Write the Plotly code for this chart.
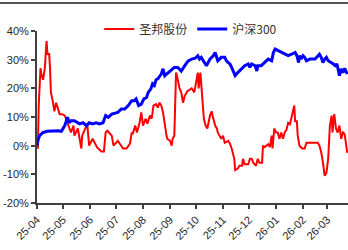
import plotly.graph_objects as go
import pandas as pd

START = "2025-04-01"

# 圣邦股份 (day offset from 2025-04-01, cumulative return %)
red_days = [0, 1, 2, 4, 5, 7, 9, 11, 12, 14, 15, 16, 18, 20, 22, 26, 29, 32, 35, 39, 42, 43, 47, 49,
            51, 52, 57, 58, 60, 64, 66, 69, 74, 77, 79, 81, 86, 88, 93, 95, 99, 103, 107, 109, 110,
            113, 115, 118, 120, 122, 125, 127, 130, 132, 134, 137, 139, 141, 143, 145, 147, 149, 150,
            153, 155, 156, 158, 160, 162, 164, 166, 168, 170, 173, 178, 181, 185, 186, 188, 190, 192,
            194, 196, 199, 201, 202, 205, 207, 208, 210, 212, 214, 216, 220, 222, 224, 225, 227, 228,
            231, 233, 236, 237, 239, 243, 245, 247, 249, 252, 254, 256, 259, 260, 262, 266, 268, 270,
            271, 273, 275, 277, 279, 281, 283, 285, 287, 289, 291, 293, 296, 297, 299, 300, 302, 305,
            308, 310, 314, 319, 323, 325, 327, 329, 331, 333, 335, 336, 337, 339, 340, 342, 344, 346,
            348, 350, 352, 354, 356, 357]
red_vals = [0, -1, 14, 27, 25, 23, 27, 36.5, 32, 32, 27, 18.6, 15.7, 12, 15, 11, 11, 10.5, 8, 4.6, 7, 3.5, 6, 2.4,
            -1, 3.5, 7, 7, 0, 2.4, 1, -0.5, -2, -2, 4.6, 5.2, 3.5, 0, 1.7, 0.7, -1, -1, 0.7, 4.6, 4,
            7, 4.6, 8, 11.6, 7, 9.4, 7.7, 10.5, 9.4, 14, 14.5, 13.3, 15, 14, 11.6, 7, 3.5, 2.4,
            1.7, 0, 2.4, 3.5, 25.5, 23, 20, 18.6, 15, 17.4, 19, 20, 18.6, 25.5, 20, 25.5, 18.6, 9.4,
            7, 6, 10.5, 12, 10.5, 7, 6, 4.6, 3.5, 2.4, 3.5, 1, 1.7, 0.7, -1, -2.3, -4.6, -8.5,
            -8, -7, -7, -4.6, -6.5, -6.5, -4.6, -4.6, -6, -7, -4.6, -6, -6, 0, -0.5, 0.5, -0.5, 3.5,
            -1, 6, 4.6, 4.6, 2.4, 4.6, 2.4, 4.6, 5.5, 8, 7.5, 10, 14, 8.5, 8.5, 3.5, 0, -1,
            -1, 1, 1, 1, 1, 0, -2.3, -5.8, -10.5, -9.5, -4.6, 1, 7, 10.5, 4.6, 11, 6, 4.6,
            7, 2.4, 4.6, 4, 0, -2.5]

# 沪深300 (day offset from 2025-04-01, cumulative return %)
blue_days = [0, 1, 3, 7, 12, 18, 24, 28, 32, 35, 37, 39, 43, 49, 53, 57, 60, 64, 68, 72, 76, 79, 82, 86,
             89, 93, 97, 101, 105, 109, 112, 114, 117, 120, 123, 126, 128, 131, 133, 135, 137, 139, 143,
             145, 147, 151, 155, 158, 162, 166, 170, 174, 178, 182, 185, 187, 189, 193, 195, 199, 203,
             205, 207, 208, 210, 212, 216, 218, 220, 222, 224, 227, 228, 231, 235, 239, 243, 245, 247,
             251, 253, 254, 258, 262, 266, 270, 272, 274, 278, 281, 285, 289, 293, 297, 299, 301, 302,
             304, 306, 308, 310, 314, 320, 323, 325, 327, 329, 331, 333, 335, 339, 341, 343, 345, 346,
             348, 350, 352, 354, 356, 357]
blue_vals = [0, 1.7, 3.5, 4.6, 5, 5.2, 5.2, 5, 7, 9.9, 8, 8.7, 8.7, 7.6, 8, 7, 8, 7.6, 8, 7.6, 8, 10.5, 9.9, 11,
             11.3, 11.6, 12.8, 12.8, 14, 15.7, 15.7, 16.3, 14, 14.5, 16.3, 16.8, 18.6, 19.8, 21.6, 21, 23, 23.3, 25,
             26.8, 24.4, 25.5, 26.8, 27.3, 27.3, 26, 27.9, 29.6, 30.2, 30.5, 31.4, 30.2, 30.8, 29, 27.9, 30.2, 31.4,
             32.5, 30.8, 29.6, 30.2, 30.8, 30.8, 29.6, 29, 28.5, 27.3, 25, 24.4, 25.5, 26.8, 27.9, 28.5, 27.3, 28.5,
             27.9, 26, 27.9, 27.9, 29, 30.2, 29.6, 32.5, 33.7, 33.1, 32.5, 31.9, 31.4, 31.9, 32.5, 31.4, 29, 31.4,
             30.2, 31.4, 30.8, 29.6, 30.2, 30.2, 31.4, 31.9, 30.8, 29, 30.2, 30.8, 29.6, 29, 28.5, 27.9, 28.5, 27.3,
             24.4, 26.8, 25.5, 27, 26, 25]

series_names = ["圣邦股份", "沪深300"]
y_ticks = [-20, -10, 0, 10, 20, 30, 40]
y_tick_text = [f"{v}%" for v in y_ticks]

start = pd.Timestamp(START)
red_x = [start + pd.Timedelta(days=d) for d in red_days]
blue_x = [start + pd.Timedelta(days=d) for d in blue_days]

fig = go.Figure()
fig.add_trace(go.Scatter(x=red_x, y=red_vals, mode="lines", name=series_names[0],
                         line=dict(color="#FF0000", width=2)))
fig.add_trace(go.Scatter(x=blue_x, y=blue_vals, mode="lines", name=series_names[1],
                         line=dict(color="#0000FF", width=3)))

axis_font = dict(family="Liberation Sans, Arial, sans-serif", size=11, color="#262626")
fig.update_layout(
    width=348, height=250,
    margin=dict(l=37, r=0, t=31, b=47, autoexpand=False),
    paper_bgcolor="white", plot_bgcolor="white",
    showlegend=True,
    legend=dict(orientation="h", x=0.2, xanchor="left", y=1.012, yanchor="middle",
                font=dict(family="Noto Sans CJK SC, sans-serif", size=12, color="#333333"),
                bgcolor="rgba(0,0,0,0)", itemwidth=30, tracegroupgap=0),
    xaxis=dict(type="date", range=["2025-04-01", "2026-03-24 20:00"], automargin=False,
               tick0="2025-04-01", dtick="M1", tickformat="%y-%m", tickangle=-45,
               showgrid=False, zeroline=False, showline=True, linecolor="#404040", linewidth=2,
               ticks="outside", ticklen=4, tickwidth=2, tickcolor="#404040", tickfont=axis_font),
    yaxis=dict(range=[-20, 40], tickvals=y_ticks, ticktext=y_tick_text, automargin=False,
               showgrid=False, zeroline=False, showline=True, linecolor="#404040", linewidth=2,
               ticks="outside", ticklen=4, tickwidth=2, tickcolor="#404040", tickfont=axis_font),
    shapes=[dict(type="line", xref="paper", yref="paper", x0=-0.2, x1=1.2, y0=1.163, y1=1.163,
                 line=dict(color="#555555", width=2))],
)

fig.write_html("out.html", config={"displayModeBar": False},
               post_script="document.body.style.margin='0';document.body.style.overflow='hidden';")
